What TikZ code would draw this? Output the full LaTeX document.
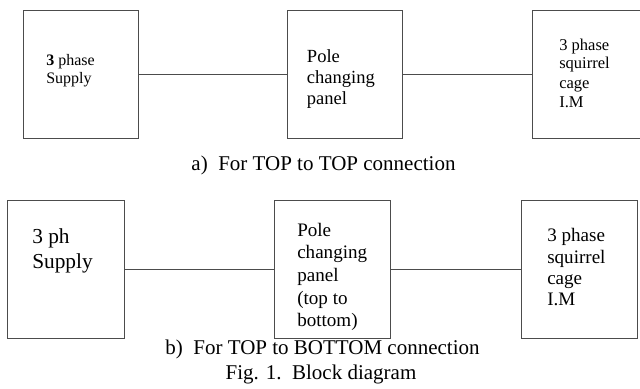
\documentclass[tikz,border=0pt]{standalone}
\usepackage{fontspec}
\setmainfont{Liberation Serif}
\begin{document}
\begin{tikzpicture}[x=0.75pt,y=-0.75pt,
  blk/.style={draw=black!70, line width=0.8pt, anchor=north west, inner sep=0pt},
  wire/.style={draw=black!70, line width=0.8pt},
  lbl/.style={anchor=base west, align=left, inner sep=0pt},
  captxt/.style={anchor=base, inner sep=0pt, font=\fontsize{15.75}{18}\selectfont}]
\clip (0,0) rectangle (640,389);
\useasboundingbox (0,0) rectangle (640,389);
% row a
\node[blk, minimum width=115*0.75pt, minimum height=128*0.75pt] (a1) at (23,10) {};
\node[blk, minimum width=115*0.75pt, minimum height=128*0.75pt] (b1) at (287,10) {};
\node[blk, minimum width=130*0.75pt, minimum height=128*0.75pt] (c1) at (532,10) {};
\draw[wire] (a1.east) -- (b1.west);
\draw[wire] (b1.east) -- (c1.west);
\node[lbl, font=\fontsize{12}{13.9}\selectfont] (ta1) at (46,84) {\textbf{3} phase\\Supply};
\node[lbl, font=\fontsize{13.9}{15.75}\selectfont] (tb1) at (306.7,104.7) {Pole\\changing\\panel};
\node[lbl, font=\fontsize{12.4}{14.25}\selectfont] (tc1) at (559,107) {3 phase\\squirrel\\cage\\I.M};
\node[captxt] (capa) at (323.5,170.7) {a)\ \ For TOP to TOP connection};
% row b
\node[blk, minimum width=117*0.75pt, minimum height=138*0.75pt] (a2) at (7,200) {};
\node[blk, minimum width=116*0.75pt, minimum height=138*0.75pt] (b2) at (274,200) {};
\node[blk, minimum width=116*0.75pt, minimum height=138*0.75pt] (c2) at (521,200) {};
\draw[wire] (a2.east) -- (b2.west);
\draw[wire] (b2.east) -- (c2.west);
\node[lbl, font=\fontsize{16}{18.75}\selectfont] (ta2) at (32,268.3) {3 ph\\Supply};
\node[lbl, font=\fontsize{14.3}{17}\selectfont] (tb2) at (297,326.8) {Pole\\changing\\panel\\(top to\\bottom)};
\node[lbl, font=\fontsize{14.3}{16}\selectfont] (tc2) at (547,305.9) {3 phase\\squirrel\\cage\\I.M};
\node[captxt] (capb) at (322.5,354) {b)\ \ For TOP to BOTTOM connection};
\node[captxt] (fig) at (321,379) {Fig. 1.\ \ Block diagram};
\end{tikzpicture}
\end{document}
